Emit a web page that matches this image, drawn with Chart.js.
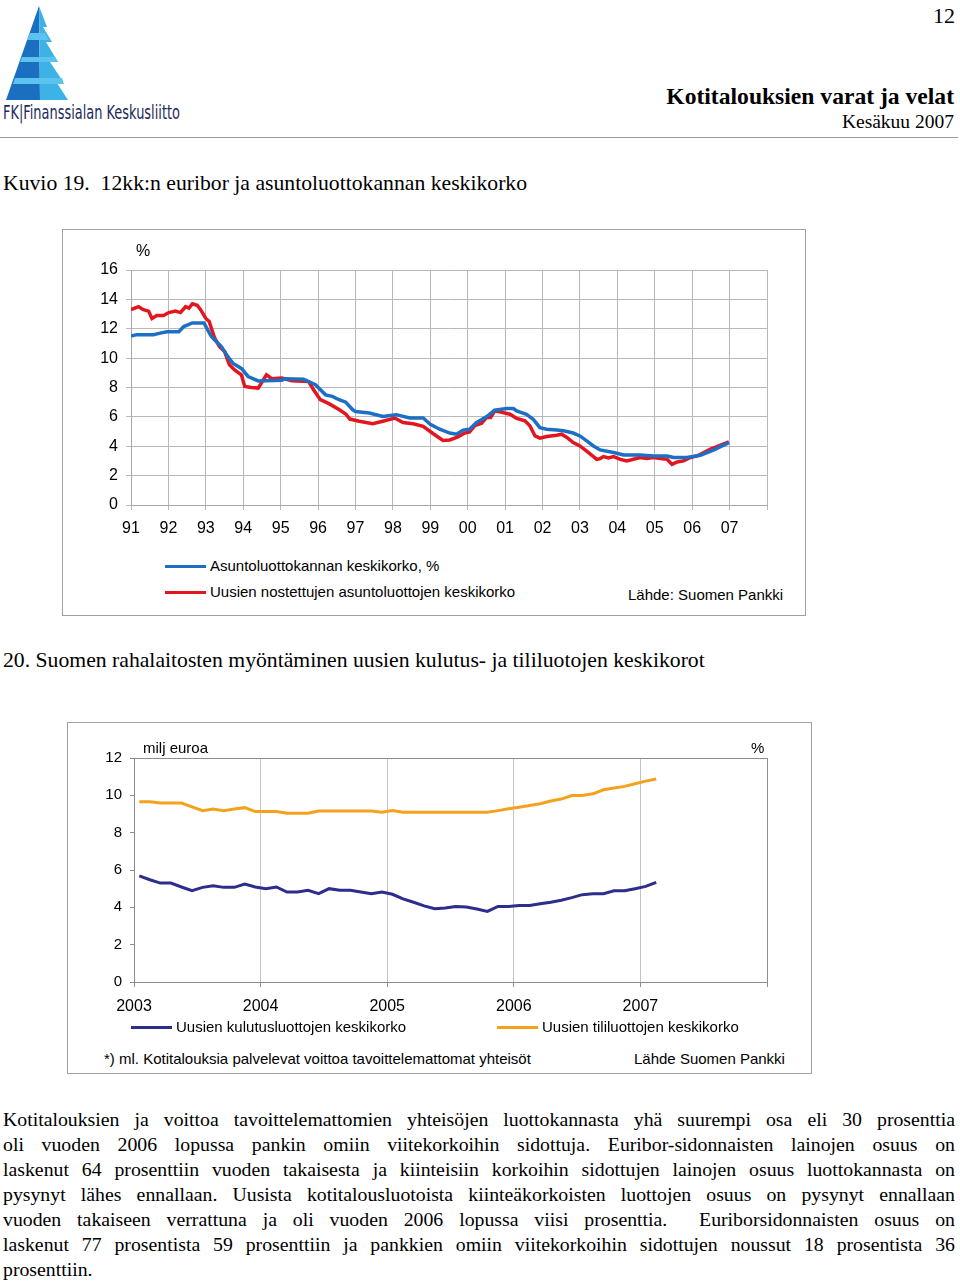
<!DOCTYPE html>
<html lang="fi">
<head>
<meta charset="UTF-8">
<title>Kotitalouksien varat ja velat</title>
<script src="https://cdn.jsdelivr.net/npm/chart.js"></script>
<style>
    body { margin: 0; background: #fff; font-family: "Liberation Serif", "Times New Roman", serif; color: #000; }
    .page { position: relative; width: 960px; height: 1283px; overflow: hidden; }
    .abs { position: absolute; white-space: nowrap; }
    .sans { font-family: "Liberation Sans", Arial, sans-serif; }
    .box { position: absolute; border: 1px solid #a0a0a0; box-sizing: border-box; }
    .leg-line { position: absolute; height: 3px; }
    .para { position: absolute; left: 3px; width: 952px; font-size: 19.8px; }
    .para div { height: 25px; line-height: 25px; text-align: justify; text-align-last: justify; white-space: nowrap; }
    .para div.last { text-align-last: left; }
</style>
</head>
<body>
<div class="page">
    <!-- logo -->
    <svg class="abs" style="left:0;top:0" width="80" height="102">
        <polygon points="39,6 6,100 40,100" fill="#1b6fc0"/>
        <polygon points="39,6 47,27 43,27 52,42 46,42 58,62 50,62 62,80 55,80 68,100 40,100" fill="#3cb2e6"/>
        <polygon points="30,33 45,33 49,40 27,40" fill="#5cc3ee"/>
        <polygon points="22,57 55,57 58,62 20,62" fill="#5cc3ee"/>
        <polygon points="15,78 62,78 64,84 13,84" fill="#5cc3ee"/>
    </svg>
    <div class="abs" style="left:3px;top:100px;font-family:'Liberation Sans Narrow','DejaVu Sans Condensed',sans-serif;font-size:20px;color:#1c2b5a;transform:scaleX(0.72);transform-origin:left">FK|Finanssialan Keskusliitto</div>

    <div class="abs" style="right:5px;top:3px;font-size:22px">12</div>
    <div class="abs" style="right:6px;top:83px;font-size:23.6px;font-weight:bold">Kotitalouksien varat ja velat</div>
    <div class="abs" style="right:6px;top:111px;font-size:19.5px">Kesäkuu 2007</div>
    <div class="abs" style="left:0;top:137px;width:958px;height:1px;background:#9a9a9a"></div>

    <div class="abs" style="left:3px;top:171px;font-size:21.7px">Kuvio 19.&nbsp; 12kk:n euribor ja asuntoluottokannan keskikorko</div>

    <!-- kuvio 19 -->
    <div class="box" style="left:62px;top:229px;width:744px;height:387px"></div>
    <canvas id="kuvio19" class="abs" style="left:62px;top:229px" width="743" height="320"></canvas>
    <div class="abs sans" style="left:136px;top:242px;font-size:16px">%</div>
    <div id="legend19" class="sans"></div>
    <div class="abs sans" style="left:628px;top:586px;font-size:15px">Lähde: Suomen Pankki</div>

    <div class="abs" style="left:3px;top:648px;font-size:21.7px">20. Suomen rahalaitosten myöntäminen uusien kulutus- ja tililuotojen keskikorot</div>

    <!-- kuvio 20 -->
    <div class="box" style="left:67px;top:722px;width:745px;height:352px"></div>
    <canvas id="kuvio20" class="abs" style="left:67px;top:722px" width="744" height="300"></canvas>
    <div class="abs sans" style="left:143px;top:739px;font-size:15px">milj euroa</div>
    <div class="abs sans" style="left:751px;top:739px;font-size:15px">%</div>
    <div id="legend20" class="sans"></div>
    <div class="abs sans" style="left:104px;top:1050px;font-size:15px">*) ml. Kotitalouksia palvelevat voittoa tavoittelemattomat yhteisöt</div>
    <div class="abs sans" style="left:634px;top:1050px;font-size:15px">Lähde Suomen Pankki</div>

    <div class="para" style="top:1107px">
        <div>Kotitalouksien ja voittoa tavoittelemattomien yhteisöjen luottokannasta yhä suurempi osa eli 30 prosenttia</div>
        <div>oli vuoden 2006 lopussa pankin omiin viitekorkoihin sidottuja. Euribor-sidonnaisten lainojen osuus on</div>
        <div>laskenut 64 prosenttiin vuoden takaisesta ja kiinteisiin korkoihin sidottujen lainojen osuus luottokannasta on</div>
        <div>pysynyt lähes ennallaan. Uusista kotitalousluotoista kiinteäkorkoisten luottojen osuus on pysynyt ennallaan</div>
        <div>vuoden takaiseen verrattuna ja oli vuoden 2006 lopussa viisi prosenttia.&nbsp; Euriborsidonnaisten osuus on</div>
        <div>laskenut 77 prosentista 59 prosenttiin ja pankkien omiin viitekorkoihin sidottujen noussut 18 prosentista 36</div>
        <div class="last">prosenttiin.</div>
    </div>
</div>

<script>
// Kuvio 19: asuntoluottojen korot, vuosi (desimaali) ja %
const kantaVuodet = [1991.0, 1991.15, 1991.6, 1991.78, 1991.96, 1992.28, 1992.41, 1992.64, 1992.95,
    1993.14, 1993.23, 1993.41, 1993.59, 1993.72, 1993.95, 1994.13, 1994.4, 1995.03, 1995.12, 1995.61, 1995.93,
    1996.2, 1996.38, 1996.56, 1996.74, 1996.92, 1997.0, 1997.37, 1997.73, 1998.09, 1998.45, 1998.81,
    1999.0, 1999.25, 1999.52, 1999.7, 1999.88, 2000.05, 2000.23, 2000.5, 2000.72,
    2001.04, 2001.22, 2001.31, 2001.57, 2001.75, 2001.93, 2002.11, 2002.38, 2002.56, 2002.82,
    2003.0, 2003.18, 2003.36, 2003.54, 2003.9, 2004.17, 2004.61, 2004.97, 2005.33, 2005.5, 2005.86,
    2006.22, 2006.58, 2006.98];
const kantaKorko = [11.5, 11.6, 11.6, 11.7, 11.8, 11.8, 12.15, 12.4, 12.4,
    11.5, 11.25, 10.8, 10.1, 9.66, 9.3, 8.75, 8.45, 8.5, 8.6, 8.57, 8.19,
    7.5, 7.4, 7.17, 7.0, 6.5, 6.37, 6.26, 6.03, 6.15, 5.92, 5.92,
    5.5, 5.16, 4.9, 4.82, 5.1, 5.16, 5.6, 6.0, 6.45,
    6.57, 6.57, 6.4, 6.18, 5.84, 5.27, 5.16, 5.1, 5.05, 4.9,
    4.7, 4.36, 4.02, 3.75, 3.57, 3.4, 3.4, 3.34, 3.34, 3.23, 3.23,
    3.39, 3.75, 4.25];

const uudetVuodet = [1991.0, 1991.2, 1991.33, 1991.47, 1991.56, 1991.69, 1991.87,
    1992.01, 1992.19, 1992.32, 1992.46, 1992.55, 1992.64, 1992.77, 1992.86,
    1993.0, 1993.09, 1993.23, 1993.36, 1993.5, 1993.63, 1993.77, 1993.95,
    1994.04, 1994.22, 1994.4, 1994.62, 1994.76, 1995.03, 1995.3, 1995.75, 1995.88,
    1996.06, 1996.29, 1996.56, 1996.74, 1996.85, 1997.1, 1997.46, 1997.73,
    1998.05, 1998.27, 1998.54, 1998.81, 1999.08, 1999.34, 1999.52, 1999.74, 1999.92,
    2000.05, 2000.19, 2000.37, 2000.5, 2000.61, 2000.72, 2000.86,
    2001.13, 2001.31, 2001.53, 2001.66, 2001.8, 2001.93, 2002.11, 2002.38, 2002.51, 2002.65, 2002.82,
    2003.0, 2003.23, 2003.45, 2003.54, 2003.63, 2003.76, 2003.9,
    2004.08, 2004.25, 2004.43, 2004.61, 2004.79, 2004.97,
    2005.15, 2005.33, 2005.46, 2005.6, 2005.77, 2005.95,
    2006.13, 2006.31, 2006.49, 2006.71, 2006.98];
const uudetKorko = [13.3, 13.5, 13.3, 13.2, 12.7, 12.9, 12.9,
    13.1, 13.2, 13.1, 13.5, 13.4, 13.7, 13.6, 13.3,
    12.7, 12.5, 11.4, 10.8, 10.45, 9.55, 9.2, 8.87,
    8.07, 8.0, 7.96, 8.87, 8.6, 8.64, 8.46, 8.4, 7.85,
    7.17, 6.9, 6.5, 6.2, 5.85, 5.7, 5.53, 5.7,
    5.92, 5.62, 5.53, 5.35, 4.85, 4.4, 4.43, 4.64, 4.9,
    4.98, 5.4, 5.57, 5.95, 5.95, 6.4, 6.34,
    6.18, 5.89, 5.73, 5.4, 4.7, 4.55, 4.66, 4.75, 4.82, 4.6, 4.25,
    4.02, 3.57, 3.11, 3.16, 3.3, 3.2, 3.3,
    3.11, 3.0, 3.11, 3.23, 3.16, 3.23,
    3.16, 3.11, 2.77, 2.93, 3.0, 3.23,
    3.34, 3.57, 3.8, 4.02, 4.3];
const vuosiTekstit19 = ['91','92','93','94','95','96','97','98','99','00','01','02','03','04','05','06','07'];

// Kuvio 20: kuukausittaiset keskikorot tammikuu 2003 - helmikuu 2007
const kuukaudet = ['2003-01','2003-02','2003-03','2003-04','2003-05','2003-06','2003-07','2003-08','2003-09','2003-10','2003-11','2003-12',
    '2004-01','2004-02','2004-03','2004-04','2004-05','2004-06','2004-07','2004-08','2004-09','2004-10','2004-11','2004-12',
    '2005-01','2005-02','2005-03','2005-04','2005-05','2005-06','2005-07','2005-08','2005-09','2005-10','2005-11','2005-12',
    '2006-01','2006-02','2006-03','2006-04','2006-05','2006-06','2006-07','2006-08','2006-09','2006-10','2006-11','2006-12',
    '2007-01','2007-02'];
const kulutusKorko = [5.69, 5.48, 5.3, 5.3, 5.09, 4.89, 5.07, 5.16, 5.07, 5.07, 5.25, 5.09,
    5.0, 5.09, 4.82, 4.82, 4.91, 4.73, 5.0, 4.91, 4.91, 4.82, 4.73, 4.82,
    4.7, 4.45, 4.27, 4.08, 3.93, 3.96, 4.05, 4.02, 3.91, 3.78, 4.05, 4.05,
    4.1, 4.1, 4.19, 4.27, 4.38, 4.52, 4.68, 4.73, 4.73, 4.89, 4.89, 5.0,
    5.12, 5.34];
const tiliKorko = [9.66, 9.66, 9.59, 9.59, 9.59, 9.38, 9.18, 9.27, 9.18, 9.27, 9.34, 9.13,
    9.13, 9.13, 9.04, 9.04, 9.04, 9.16, 9.16, 9.16, 9.16, 9.16, 9.16, 9.1,
    9.19, 9.09, 9.09, 9.09, 9.09, 9.09, 9.09, 9.09, 9.09, 9.09, 9.18, 9.28,
    9.36, 9.45, 9.55, 9.7, 9.8, 9.99, 9.99, 10.08, 10.3, 10.39, 10.48, 10.62,
    10.76, 10.87];
const vuosiTekstit20 = ['2003','2004','2005','2006','2007'];

Chart.defaults.font.family = '"Liberation Sans", Arial, sans-serif';
Chart.defaults.color = '#000';

function pisteet(xs, ys) {
    return xs.map((x, i) => ({ x: x, y: ys[i] }));
}
function kuukausiVuosi(k) {
    const [v, m] = k.split('-').map(Number);
    return v + (m - 0.5) / 12;
}

new Chart(document.getElementById('kuvio19'), {
    type: 'line',
    data: {
        datasets: [
            { label: 'Asuntoluottokannan keskikorko, %', data: pisteet(kantaVuodet, kantaKorko),
              borderColor: '#1d6fc6', borderWidth: 3.5 },
            { label: 'Uusien nostettujen asuntoluottojen keskikorko', data: pisteet(uudetVuodet, uudetKorko),
              borderColor: '#e3161f', borderWidth: 3.5 }
        ]
    },
    options: {
        responsive: false,
        animation: false,
        elements: { point: { radius: 0 }, line: { tension: 0 } },
        layout: { padding: { left: 29, right: 38, top: 41, bottom: 14 } },
        plugins: { legend: { display: false }, tooltip: { enabled: false } },
        scales: {
            x: {
                type: 'linear', min: 1991, max: 2008,
                afterFit: s => { s.height = 30; },
                grid: { color: '#b8b8b8', tickLength: 5 },
                border: { color: '#a8a8a8' },
                ticks: { stepSize: 1, padding: 9, maxRotation: 0, autoSkip: false, font: { size: 16 },
                    callback: v => vuosiTekstit19[Math.round(v) - 1991] || '' }
            },
            y: {
                min: 0, max: 16,
                afterFit: s => { s.width = 40; },
                grid: { color: '#b8b8b8', tickLength: 5 },
                border: { color: '#a8a8a8' },
                ticks: { stepSize: 2, padding: 8, font: { size: 16 } }
            }
        }
    }
});

const kehys = {
    id: 'kehys',
    beforeDatasetsDraw(chart) {
        const a = chart.chartArea, ctx = chart.ctx;
        ctx.save();
        ctx.strokeStyle = '#8c8c8c';
        ctx.lineWidth = 1;
        ctx.strokeRect(a.left + 0.5, a.top + 0.5, a.right - a.left, a.bottom - a.top);
        ctx.restore();
    }
};

new Chart(document.getElementById('kuvio20'), {
    type: 'line',
    data: {
        datasets: [
            { label: 'Uusien kulutusluottojen keskikorko', data: pisteet(kuukaudet.map(kuukausiVuosi), kulutusKorko),
              borderColor: '#2c2d8c', borderWidth: 3 },
            { label: 'Uusien tililuottojen keskikorko', data: pisteet(kuukaudet.map(kuukausiVuosi), tiliKorko),
              borderColor: '#f4a21c', borderWidth: 3 }
        ]
    },
    options: {
        responsive: false,
        animation: false,
        elements: { point: { radius: 0 }, line: { tension: 0 } },
        layout: { padding: { left: 27, right: 44, top: 36, bottom: 10 } },
        plugins: { legend: { display: false }, tooltip: { enabled: false } },
        scales: {
            x: {
                type: 'linear', min: 2003, max: 2008,
                afterFit: s => { s.height = 30; },
                grid: { color: '#c4c4c4', tickColor: '#8c8c8c', tickLength: 5 },
                border: { color: '#8c8c8c' },
                ticks: { stepSize: 1, padding: 10, maxRotation: 0, autoSkip: false, font: { size: 16 },
                    callback: v => vuosiTekstit20[Math.round(v) - 2003] || '' }
            },
            y: {
                min: 0, max: 12,
                afterFit: s => { s.width = 40; },
                grid: { drawOnChartArea: false, color: '#8c8c8c', tickLength: 4 },
                border: { color: '#8c8c8c' },
                ticks: { stepSize: 2, padding: 8, font: { size: 15 } }
            }
        }
    },
    plugins: [kehys]
});

// selitteet HTML:nä
function selite(id, sarjat, paikat) {
    const el = document.getElementById(id);
    sarjat.forEach((ds, i) => {
        const p = paikat[i];
        el.insertAdjacentHTML('beforeend',
            `<div class="leg-line" style="left:${p.x}px;top:${p.y - 1}px;width:${p.w}px;background:${ds.borderColor}"></div>` +
            `<div class="abs" style="left:${p.x + p.w + 4}px;top:${p.y - 9}px;font-size:15px">${ds.label}</div>`);
    });
}
const c19 = Chart.getChart('kuvio19'), c20 = Chart.getChart('kuvio20');
selite('legend19', c19.data.datasets, [{ x: 165, y: 566, w: 41 }, { x: 165, y: 592, w: 41 }]);
selite('legend20', c20.data.datasets, [{ x: 131, y: 1027, w: 41 }, { x: 497, y: 1027, w: 41 }]);
</script>
</body>
</html>
